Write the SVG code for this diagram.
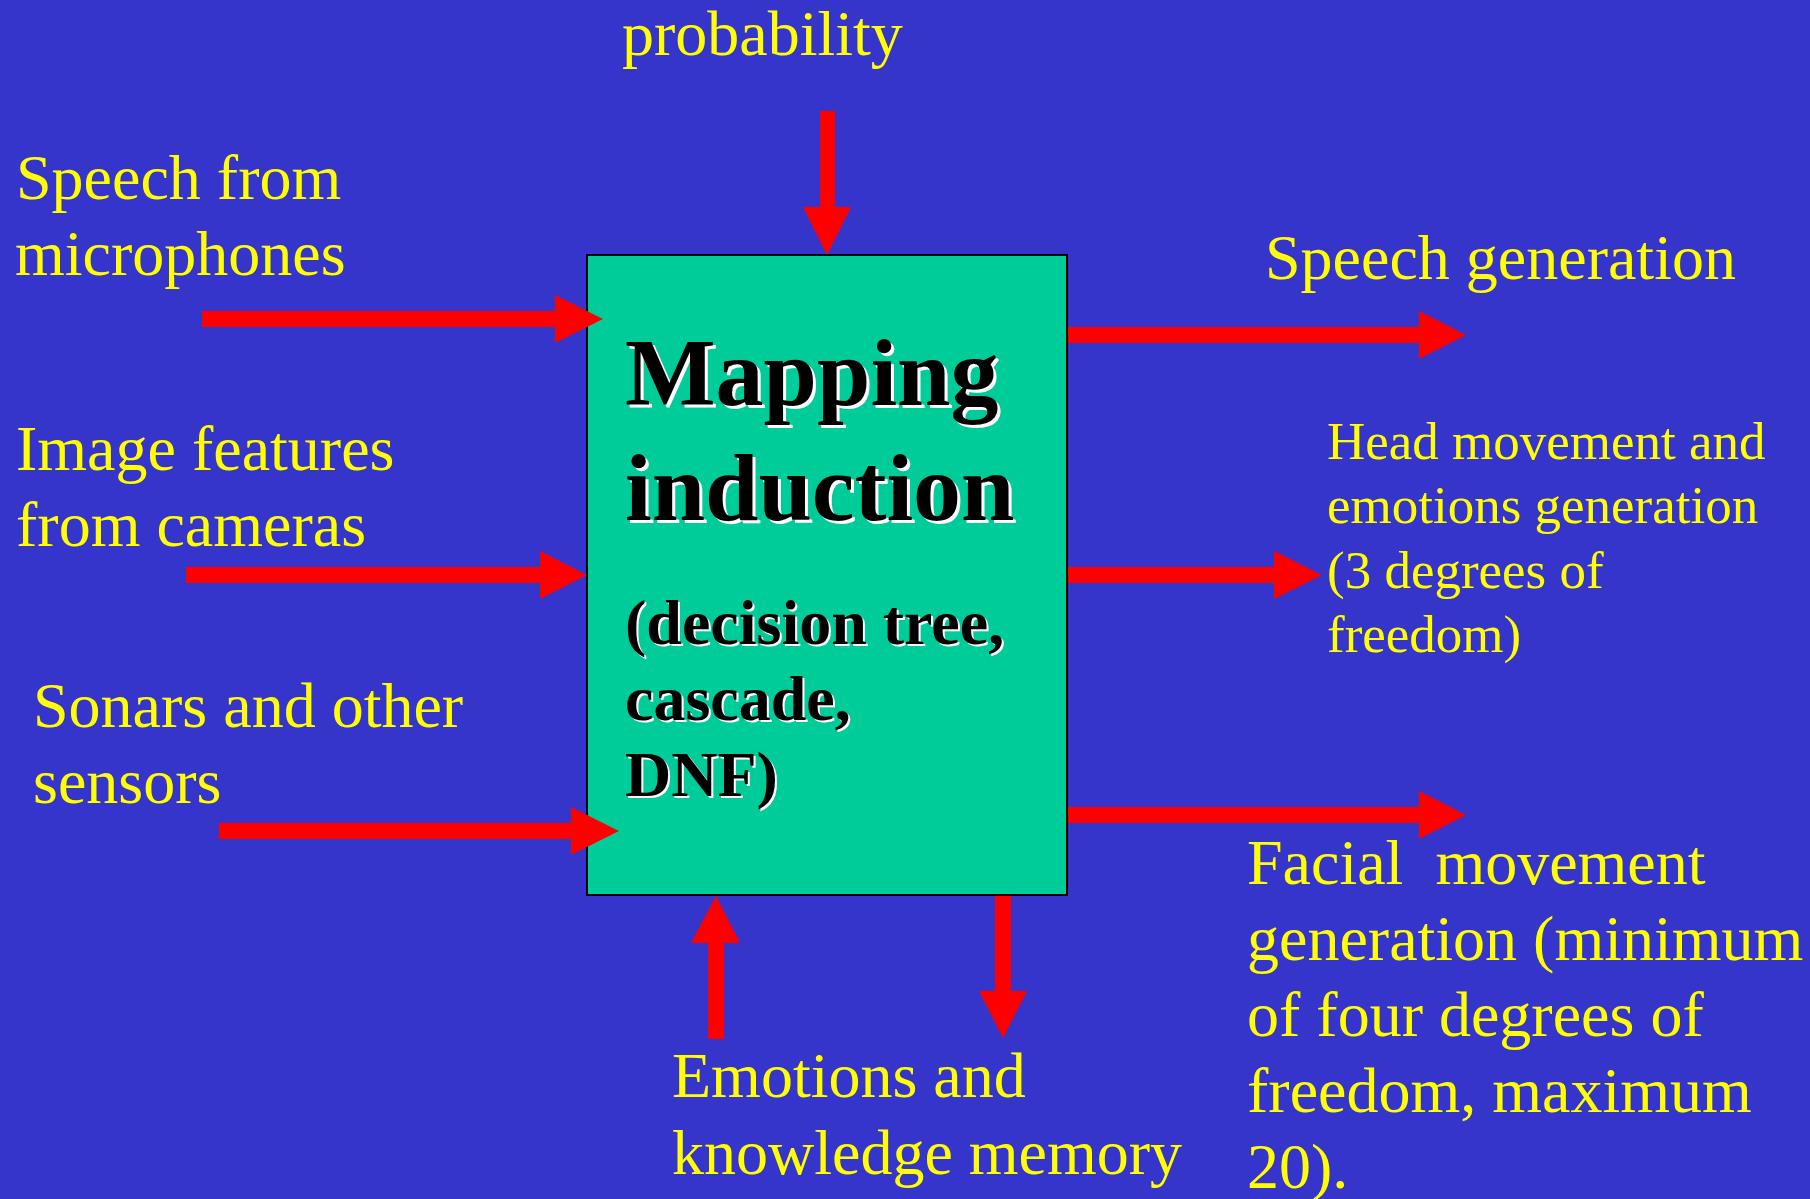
<svg xmlns="http://www.w3.org/2000/svg" width="1810" height="1199" viewBox="0 0 1810 1199">
<style>
.lbl{font-family:"Liberation Serif","Times New Roman",serif;font-size:64px;fill:#FFFF00;white-space:pre}
.sm{font-size:53px}
.bx{font-family:"Liberation Serif","Times New Roman",serif;font-weight:bold;fill:#000}
.sh{fill:#FFFFFF}
.big{font-size:96px}
.mid{font-size:64px}
.arr{fill:#FF0000;stroke:none}
</style>
<rect x="0" y="0" width="1810" height="1199" fill="#3535CB"/>
<g id="mapping-induction">
<rect x="587" y="255" width="480" height="640" fill="#00CC99" stroke="#000" stroke-width="2"/>
<g class="bx sh">
<text class="big" x="628" y="408">Mapping</text>
<text class="big" x="628" y="523">induction</text>
<text class="mid" x="627" y="646">(decision tree,</text>
<text class="mid" x="627" y="722">cascade,</text>
<text class="mid" x="627" y="798">DNF)</text>
</g>
<g class="bx">
<text class="big" x="625" y="405">Mapping</text>
<text class="big" x="625" y="520">induction</text>
<text class="mid" x="625" y="644">(decision tree,</text>
<text class="mid" x="625" y="720">cascade,</text>
<text class="mid" x="625" y="796">DNF)</text>
</g>
</g>
<g id="connectors">
<path class="arr" d="M202,311 H555 V295 L603,319 L555,343 V327 H202 Z"/>
<path class="arr" d="M186,567 H540 V551 L587,575 L540,599 V583 H186 Z"/>
<path class="arr" d="M219,823 H571 V807 L619,831 L571,855 V839 H219 Z"/>
<path class="arr" d="M820,111 V207 H803 L827,255 L851,207 H835 V111 Z"/>
<path class="arr" d="M1068,327 H1419 V311 L1466,335 L1419,359 V343 H1068 Z"/>
<path class="arr" d="M1068,567 H1274 V551 L1322,575 L1274,599 V583 H1068 Z"/>
<path class="arr" d="M1068,807 H1419 V791 L1466,815 L1419,839 V823 H1068 Z"/>
<path class="arr" d="M708,1039 V943 H691 L716,896 L740,943 H724 V1039 Z"/>
<path class="arr" d="M995,896 V991 H979 L1003,1038 L1027,991 H1011 V896 Z"/>
</g>
<g id="probability"><text class="lbl" x="622" y="55">probability</text></g>
<g id="speech-in"><text class="lbl" x="16" y="199">Speech from</text><text class="lbl" x="15" y="275">microphones</text></g>
<g id="image-in"><text class="lbl" x="16" y="470">Image features</text><text class="lbl" x="16" y="546">from cameras</text></g>
<g id="sonar-in"><text class="lbl" x="33" y="727">Sonars and other</text><text class="lbl" x="33" y="803">sensors</text></g>
<g id="speech-out"><text class="lbl" x="1265" y="279">Speech generation</text></g>
<g id="head-out"><text class="lbl sm" x="1327" y="459">Head movement and</text><text class="lbl sm" x="1327" y="523">emotions generation</text><text class="lbl sm" x="1327" y="588">(3 degrees of</text><text class="lbl sm" x="1327" y="652">freedom)</text></g>
<g id="facial-out"><text class="lbl" x="1247" y="884">Facial  movement</text><text class="lbl" x="1247" y="960">generation (minimum</text><text class="lbl" x="1247" y="1036">of four degrees of</text><text class="lbl" x="1247" y="1112">freedom, maximum</text><text class="lbl" x="1247" y="1188">20).</text></g>
<g id="memory"><text class="lbl" x="672" y="1097">Emotions and</text><text class="lbl" x="672" y="1174">knowledge memory</text></g>
</svg>
